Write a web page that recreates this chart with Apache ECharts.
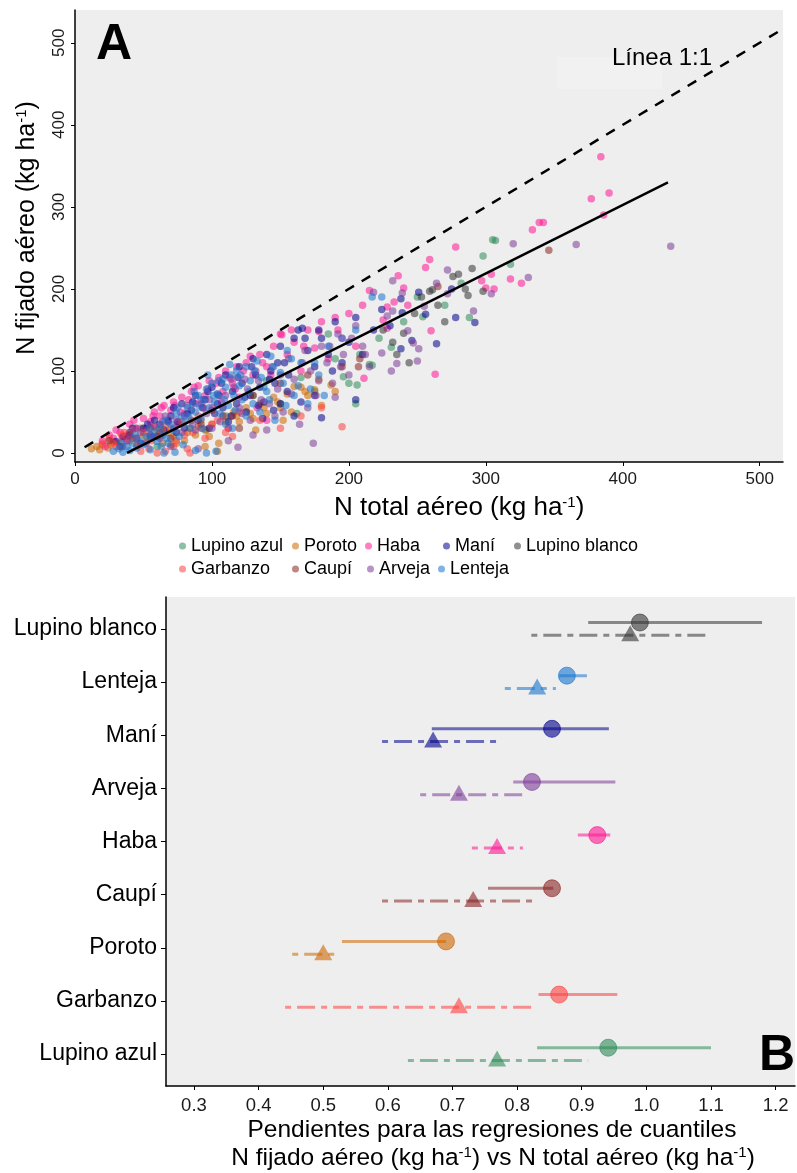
<!DOCTYPE html>
<html lang="es">
<head>
<meta charset="UTF-8">
<title>N fijado aéreo vs N total aéreo</title>
<script src="https://cdn.jsdelivr.net/npm/echarts@6/dist/echarts.min.js"></script>
<style>
  html, body { margin: 0; padding: 0; background: #fff; }
  #chart { width: 797px; height: 1173px; }
</style>
</head>
<body>
<div id="chart"></div>
<script>
// ---- panel A: puntos [N total aéreo, N fijado aéreo] por especie ----
var lupinoAzul = [[60,8],[95,28],[130,70],[150,60],[165,92],[175,75],[190,115],[200,85],[206,83],[196,93],[208,120],[217,107],[215,108],[222,140],[231,129],[254,166],[282,207],[288,165],[298,240],[305,260],[307,259],[318,230],[240,160],[250,190],[270,180],[205,60],[185,145],[110,45],[140,88],[162,48]];
var poroto = [[12,5],[16,8],[20,10],[24,6],[28,14],[32,12],[36,20],[40,15],[45,10],[50,22],[55,18],[60,28],[64,12],[68,25],[72,20],[76,35],[80,15],[84,30],[88,22],[92,40],[96,28],[100,35],[104,2],[108,45],[112,30],[116,50],[120,38],[125,55],[130,42],[135,60],[140,48],[145,68],[150,55],[155,72],[160,81],[165,80],[170,70],[175,77],[180,58],[187,83],[190,75],[105,12],[95,8],[48,30],[70,10],[18,4],[26,10],[34,8],[42,18],[52,14],[58,20],[66,30],[74,12],[82,25],[90,32],[98,20],[110,38],[118,45],[128,48],[138,55],[148,62],[158,50],[168,75],[178,90],[132,28],[152,40]];
var haba = [[20,15],[25,22],[30,28],[35,18],[40,35],[45,30],[50,42],[55,38],[58,50],[62,45],[65,58],[70,52],[72,62],[75,35],[78,68],[80,48],[85,75],[88,60],[90,82],[95,70],[98,88],[100,55],[105,92],[108,75],[110,100],[115,85],[118,105],[120,68],[125,110],[130,95],[135,120],[140,105],[145,130],[150,145],[151,144],[155,120],[160,135],[165,100],[170,150],[175,128],[180,160],[185,115],[190,165],[195,140],[200,170],[205,130],[210,180],[211,91],[215,198],[225,162],[228,178],[228,152],[233,184],[236,216],[240,201],[243,180],[256,226],[259,236],[260,149],[263,96],[278,251],[297,210],[300,201],[304,218],[306,200],[318,212],[326,207],[334,272],[339,281],[342,281],[377,310],[384,361],[386,290],[390,317],[140,40],[112,30],[22,8],[28,18],[33,25],[38,22],[43,40],[52,30],[57,45],[63,55],[68,40],[73,58],[77,50],[83,65],[87,80],[92,60],[97,78],[103,85],[107,62],[113,92],[117,78],[123,100],[128,118],[137,110],[143,95],[158,150],[167,130],[178,148],[192,150],[133,55]];
var mani = [[30,14],[35,20],[40,25],[45,18],[50,30],[55,22],[58,40],[62,35],[65,28],[70,45],[72,55],[75,38],[78,60],[80,30],[85,52],[88,70],[90,40],[95,65],[98,30],[100,80],[102,48],[105,70],[108,55],[110,95],[112,38],[115,75],[118,60],[120,105],[122,85],[125,50],[128,70],[130,115],[132,95],[135,80],[138,62],[140,120],[143,100],[146,85],[150,130],[153,110],[156,95],[160,140],[163,150],[166,152],[170,125],[175,105],[180,140],[180,43],[185,120],[190,160],[195,110],[200,135],[205,165],[210,120],[218,150],[224,175],[230,155],[238,188],[239,171],[246,137],[251,196],[256,169],[264,133],[275,200],[278,165],[292,159],[238,127],[160,45],[175,70],[150,60],[205,65],[33,8],[42,30],[48,12],[53,35],[60,20],[68,38],[74,25],[82,48],[86,62],[93,55],[97,75],[104,60],[107,85],[114,45],[119,92],[124,68],[129,105],[134,58],[142,90],[148,110],[155,75],[168,140],[178,150],[188,100],[137,42],[145,52],[165,62]];
var lupinoBlanco = [[240,146],[244,110],[253,190],[259,197],[261,199],[276,215],[280,218],[287,192],[298,197],[232,135],[225,150],[248,170],[265,180],[270,160],[235,120],[285,200],[290,225]];
var garbanzo = [[20,12],[25,18],[30,8],[34,22],[38,15],[42,28],[46,10],[50,25],[54,5],[58,32],[62,20],[66,2],[70,30],[74,15],[78,38],[82,5],[86,25],[90,45],[95,18],[100,35],[110,25],[120,50],[135,40],[150,30],[165,45],[180,55],[195,32],[84,0],[60,0],[48,2],[28,12],[36,25],[44,18],[56,15],[64,28],[72,8],[80,22],[92,30],[104,40],[115,20]];
var caupi = [[25,15],[40,22],[55,30],[70,18],[85,40],[100,52],[115,45],[130,70],[150,85],[170,95],[195,105],[207,105],[208,115],[265,203],[346,247],[120,30],[62,25],[92,35]];
var arveja = [[35,8],[40,20],[48,25],[52,12],[58,33],[62,18],[66,45],[70,8],[74,40],[78,25],[82,58],[86,35],[90,5],[92,65],[96,48],[100,30],[104,72],[108,45],[112,15],[116,80],[119,7],[120,55],[124,90],[128,40],[132,100],[136,65],[140,28],[144,105],[148,78],[152,50],[156,115],[160,90],[164,35],[168,125],[172,100],[174,12],[176,70],[180,130],[184,110],[188,85],[192,145],[196,120],[200,95],[205,155],[210,130],[215,105],[218,196],[224,122],[228,167],[231,100],[232,173],[232,210],[235,109],[239,195],[243,149],[247,134],[250,112],[251,127],[255,179],[264,207],[272,223],[272,194],[291,173],[304,194],[320,255],[331,214],[366,254],[435,252],[38,15],[44,30],[55,20],[64,38],[72,30],[80,45],[88,28],[94,55],[98,65],[106,38],[110,70],[114,90],[122,48],[126,78],[134,88],[142,60],[150,95],[158,72],[166,110],[178,88],[186,130],[194,105],[202,140],[212,120],[130,22],[146,45],[170,55],[190,68]];
var lenteja = [[28,2],[32,5],[35,1],[38,8],[40,3],[42,12],[45,6],[47,15],[50,10],[52,20],[55,4],[56,18],[58,25],[60,14],[62,30],[64,22],[66,40],[68,12],[70,35],[72,28],[74,48],[76,20],[78,45],[80,38],[82,55],[84,30],[86,60],[88,50],[90,70],[92,42],[94,65],[96,78],[98,55],[100,85],[102,62],[104,72],[106,48],[108,90],[110,80],[112,58],[114,95],[116,70],[118,100],[120,82],[122,65],[125,105],[128,88],[130,60],[133,112],[136,92],[140,75],[143,118],[146,40],[150,98],[155,125],[160,70],[165,110],[170,60],[178,95],[185,130],[195,140],[205,150],[217,190],[224,190],[65,0],[96,0],[103,2],[88,3],[73,1],[110,35],[115,30],[125,45],[34,12],[44,22],[54,30],[63,8],[67,18],[75,55],[79,10],[83,45],[87,75],[91,58],[93,30],[97,95],[101,70],[105,88],[109,65],[113,108],[117,52],[121,95],[127,75],[131,100],[138,80],[145,105],[152,85],[158,115],[175,110],[135,50],[142,65],[154,58],[163,82],[172,78],[182,70]];

var lineaUnoUno = [[7, 7], [517, 517]];
var regresion = [[38, 0], [433, 330]];
var xTicksA = [0, 100, 200, 300, 400, 500];
var yTicksA = [0, 100, 200, 300, 400, 500];

// ---- panel B: pendientes por especie (de abajo hacia arriba) ----
var especiesB = ['Lupino azul', 'Garbanzo', 'Poroto', 'Caupí', 'Haba', 'Arveja', 'Maní', 'Lenteja', 'Lupino blanco'];
var circEst = [0.941, 0.865, 0.690, 0.854, 0.924, 0.823, 0.854, 0.877, 0.990];
var circLo  = [0.831, 0.833, 0.529, 0.755, 0.894, 0.794, 0.668, 0.865, 0.910];
var circHi  = [1.100, 0.955, 0.690, 0.856, 0.944, 0.952, 0.942, 0.908, 1.179];
var triEst  = [0.769, 0.710, 0.500, 0.732, 0.769, 0.710, 0.670, 0.831, 0.975];
var triLo   = [0.631, 0.441, 0.452, 0.591, 0.730, 0.650, 0.591, 0.781, 0.822];
var triHi   = [0.910, 0.831, 0.518, 0.831, 0.809, 0.811, 0.769, 0.860, 1.100];
var xTicksB = [0.3, 0.4, 0.5, 0.6, 0.7, 0.8, 0.9, 1.0, 1.1, 1.2];

var colores = {
  'Lupino azul': '#2E8B57',
  'Poroto': '#CD6600',
  'Haba': '#FF1493',
  'Maní': '#00008B',
  'Lupino blanco': '#333333',
  'Garbanzo': '#FF4040',
  'Caupí': '#8B2323',
  'Arveja': '#7D3C98',
  'Lenteja': '#1874CD'
};
var puntos = {
  'Lupino azul': lupinoAzul, 'Poroto': poroto, 'Haba': haba, 'Maní': mani,
  'Lupino blanco': lupinoBlanco, 'Garbanzo': garbanzo, 'Caupí': caupi,
  'Arveja': arveja, 'Lenteja': lenteja
};

var FONT = 'Liberation Sans, Arial, sans-serif';
var chart = echarts.init(document.getElementById('chart'));

var series = [];
Object.keys(puntos).forEach(function (nombre) {
  series.push({
    name: nombre, type: 'scatter', xAxisIndex: 0, yAxisIndex: 0,
    data: puntos[nombre], symbolSize: 7.5,
    itemStyle: { color: colores[nombre], opacity: 0.55 },
    emphasis: { disabled: true }
  });
});
series.push({
  type: 'line', xAxisIndex: 0, yAxisIndex: 0, data: lineaUnoUno, showSymbol: false, silent: true,
  lineStyle: { color: '#000', width: 2.5, type: [10, 9] }, z: 5
});
series.push({
  type: 'line', xAxisIndex: 0, yAxisIndex: 0, data: regresion, showSymbol: false, silent: true,
  lineStyle: { color: '#000', width: 2.5 }, z: 5
});

// intervalos del panel B
especiesB.forEach(function (nombre, i) {
  var c = colores[nombre];
  series.push({
    type: 'line', xAxisIndex: 1, yAxisIndex: 1, showSymbol: false, silent: true,
    data: [[circLo[i], i + 0.12], [circHi[i], i + 0.12]],
    lineStyle: { color: c, width: 3, opacity: 0.55 }
  });
  series.push({
    type: 'line', xAxisIndex: 1, yAxisIndex: 1, showSymbol: false, silent: true,
    data: [[triLo[i], i - 0.12], [triHi[i], i - 0.12]],
    lineStyle: { color: c, width: 3, opacity: 0.55, type: [6, 6, 18, 6] }
  });
});
series.push({
  type: 'scatter', xAxisIndex: 1, yAxisIndex: 1, symbol: 'circle', symbolSize: 17, silent: true,
  data: especiesB.map(function (n, i) {
    return { value: [circEst[i], i + 0.12], itemStyle: { color: colores[n], opacity: 0.6, borderColor: colores[n], borderWidth: 1 } };
  })
});
series.push({
  type: 'scatter', xAxisIndex: 1, yAxisIndex: 1, symbol: 'triangle', symbolSize: [18, 16], symbolOffset: [0, -2], silent: true,
  data: especiesB.map(function (n, i) {
    return { value: [triEst[i], i - 0.12], itemStyle: { color: colores[n], opacity: 0.6 } };
  })
});

// leyenda: una por entrada para fijar su posición
var posLeyenda = [
  ['Lupino azul', 179, 537], ['Poroto', 292, 537], ['Haba', 365, 537], ['Maní', 443, 537], ['Lupino blanco', 514, 537],
  ['Garbanzo', 179, 560], ['Caupí', 292, 560], ['Arveja', 367, 560], ['Lenteja', 438, 560]
];
var legends = posLeyenda.map(function (p) {
  return {
    data: [p[0]], left: p[1], top: p[2], padding: 0, itemWidth: 7, itemHeight: 7, icon: 'circle',
    selectedMode: false, textStyle: { fontSize: 18, color: '#000', fontFamily: FONT }
  };
});

var supRich = {
  s: { fontSize: 15, verticalAlign: 'top', lineHeight: 14, fontFamily: FONT, fill: '#000', color: '#000' }
};
function texto(t, x, y, size, extra) {
  return {
    type: 'text', x: x, y: y, silent: true, z: 10,
    style: Object.assign({
      text: t, fill: '#000', font: size + 'px ' + FONT, fontSize: size, fontFamily: FONT,
      align: 'left', textAlign: 'left', verticalAlign: 'middle', textVerticalAlign: 'middle', rich: supRich
    }, extra || {})
  };
}

var option = {
  animation: false,
  textStyle: { fontFamily: FONT },
  legend: legends,
  grid: [
    { left: 75, top: 10, width: 708, height: 452, show: true, backgroundColor: '#eeeeee', borderWidth: 0 },
    { left: 166, top: 597, width: 629, height: 489, show: true, backgroundColor: '#eeeeee', borderWidth: 0 }
  ],
  xAxis: [
    {
      type: 'value', gridIndex: 0, min: 0, max: 517,
      axisLine: { show: true, onZero: false, lineStyle: { color: '#000', width: 1.5 } },
      axisTick: { show: true, length: 4, customValues: xTicksA, lineStyle: { color: '#000' } },
      axisLabel: { customValues: xTicksA, margin: 9, fontSize: 17, color: '#1a1a1a' },
      splitLine: { show: false }
    },
    {
      type: 'value', gridIndex: 1, min: 0.2567, max: 1.230,
      axisLine: { show: true, onZero: false, lineStyle: { color: '#000', width: 1.5 } },
      axisTick: { show: true, length: 4, customValues: xTicksB, lineStyle: { color: '#000' } },
      axisLabel: { customValues: xTicksB, margin: 10, fontSize: 18.5, color: '#1a1a1a',
        formatter: function (v) { return v.toFixed(1); } },
      splitLine: { show: false }
    }
  ],
  yAxis: [
    {
      type: 'value', gridIndex: 0, min: -11, max: 540,
      axisLine: { show: true, onZero: false, lineStyle: { color: '#000', width: 1.5 } },
      axisTick: { show: true, length: 4, customValues: yTicksA, lineStyle: { color: '#000' } },
      axisLabel: { customValues: yTicksA, rotate: 90, margin: 7, fontSize: 17, color: '#1a1a1a' },
      splitLine: { show: false }
    },
    {
      type: 'value', gridIndex: 1, min: -0.6, max: 8.6,
      axisLine: { show: true, onZero: false, lineStyle: { color: '#000', width: 1.5 } },
      axisTick: { show: true, length: 5, customValues: [0, 1, 2, 3, 4, 5, 6, 7, 8], lineStyle: { color: '#000' } },
      axisLabel: { customValues: [0, 1, 2, 3, 4, 5, 6, 7, 8], margin: 9, fontSize: 23, color: '#000',
        formatter: function (v) { return especiesB[Math.round(v)]; } },
      splitLine: { show: false }
    }
  ],
  graphic: [
    { type: 'rect', shape: { x: 557, y: 57, width: 105, height: 32 }, style: { fill: '#f1f1f1' }, silent: true, z: 0 },
    texto('Línea 1:1', 612, 58, 24),
    texto('A', 96, 45, 50, { font: 'bold 50px ' + FONT, fontWeight: 'bold' }),
    texto('B', 759, 1056, 50, { font: 'bold 50px ' + FONT, fontWeight: 'bold' }),
    texto('N total aéreo (kg ha{s|-1})', 334, 508, 26),
    Object.assign(texto('N fijado aéreo (kg ha{s|-1})', 27, 228, 25, { align: 'center', textAlign: 'center' }), { rotation: Math.PI / 2 }),
    texto('Pendientes para las regresiones de cuantiles', 492, 1130, 24.5, { align: 'center', textAlign: 'center' }),
    texto('N fijado aéreo (kg ha{s|-1}) vs N total aéreo (kg ha{s|-1})', 493, 1158, 24.5, { align: 'center', textAlign: 'center' })
  ],
  series: series
};
chart.setOption(option);
</script>
</body>
</html>
